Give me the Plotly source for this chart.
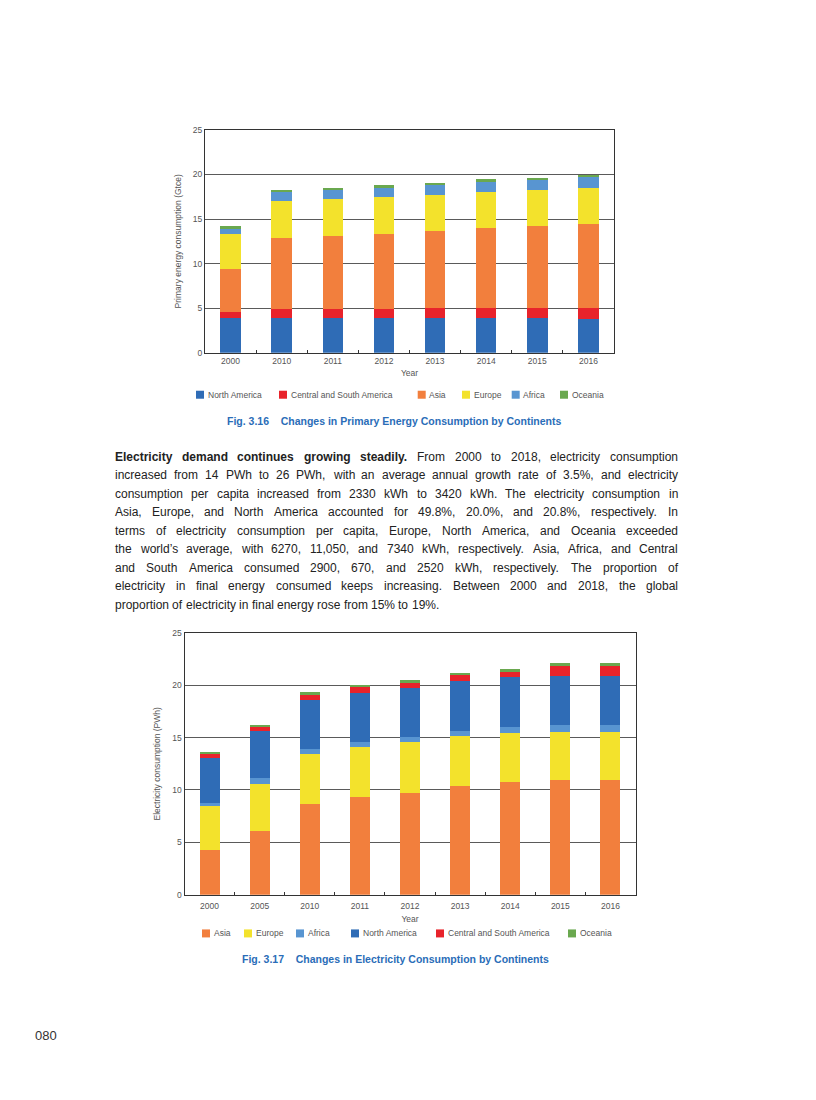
import plotly.graph_objects as go

# ---------------- Data: Fig. 3.16 Primary energy consumption (Gtce) ----------------
years1 = ["2000", "2010", "2011", "2012", "2013", "2014", "2015", "2016"]
pe_north_america = [3.85, 3.85, 3.85, 3.85, 3.90, 3.95, 3.88, 3.84]
pe_central_south_america = [0.70, 1.05, 1.05, 1.05, 1.08, 1.05, 1.12, 1.16]
pe_asia = [4.85, 8.00, 8.23, 8.46, 8.66, 9.00, 9.18, 9.40]
pe_europe = [3.90, 4.10, 4.15, 4.10, 4.10, 4.06, 4.07, 4.07]
pe_africa = [0.70, 1.05, 1.02, 1.12, 1.12, 1.12, 1.12, 1.19]
pe_oceania = [0.20, 0.20, 0.20, 0.22, 0.22, 0.26, 0.26, 0.30]

# ---------------- Data: Fig. 3.17 Electricity consumption (PWh) ----------------
years2 = ["2000", "2005", "2010", "2011", "2012", "2013", "2014", "2015", "2016"]
el_asia = [4.26, 6.07, 8.65, 9.29, 9.73, 10.34, 10.72, 10.91, 10.91]
el_europe = [4.17, 4.55, 4.77, 4.77, 4.81, 4.77, 4.74, 4.67, 4.67]
el_africa = [0.35, 0.48, 0.51, 0.54, 0.54, 0.57, 0.60, 0.64, 0.64]
el_north_america = [4.32, 4.55, 4.64, 4.67, 4.64, 4.74, 4.71, 4.68, 4.71]
el_central_south_america = [0.35, 0.35, 0.51, 0.55, 0.51, 0.54, 0.54, 0.98, 0.95]
el_oceania = [0.20, 0.22, 0.26, 0.22, 0.25, 0.22, 0.22, 0.22, 0.26]

yticks = [0, 5, 10, 15, 20, 25]

bold_lead = "Electricity demand continues growing steadily."
paragraph_lines = [
    "Electricity demand continues growing steadily. From 2000 to 2018, electricity consumption",
    "increased from 14 PWh to 26 PWh, with an average annual growth rate of 3.5%, and electricity",
    "consumption per capita increased from 2330 kWh to 3420 kWh. The electricity consumption in",
    "Asia, Europe, and North America accounted for 49.8%, 20.0%, and 20.8%, respectively. In",
    "terms of electricity consumption per capita, Europe, North America, and Oceania exceeded",
    "the world\u2019s average, with 6270, 11,050, and 7340 kWh, respectively. Asia, Africa, and Central",
    "and South America consumed 2900, 670, and 2520 kWh, respectively. The proportion of",
    "electricity in final energy consumed keeps increasing. Between 2000 and 2018, the global",
    "proportion of electricity in final energy rose from 15% to 19%.",
]

C_NA = "#2f6cb6"
C_CSA = "#e8232b"
C_ASIA = "#f27f3d"
C_EUR = "#f3e22c"
C_AFR = "#5895d1"
C_OCE = "#6aa84f"

# browser body has an 8px margin; keep the page shorter than the window
OFF = 8
W, H = 800, 1070
# small empirical vertical correction between page pixels and the photographed picture
YA, YB = 0.9912, 4.14
FONT = "Liberation Sans, Arial, sans-serif"
TICK_COLOR = "#555555"
GRID = "#5a5a5a"


def px_x(p):
    return (p - OFF) / W


def px_y(p):
    page = (p - YB) / YA
    return 1 - (page - OFF) / H


fig = go.Figure()

series1 = [
    ("North America", pe_north_america, C_NA),
    ("Central and South America", pe_central_south_america, C_CSA),
    ("Asia", pe_asia, C_ASIA),
    ("Europe", pe_europe, C_EUR),
    ("Africa", pe_africa, C_AFR),
    ("Oceania", pe_oceania, C_OCE),
]
for name, vals, col in series1:
    fig.add_trace(go.Bar(x=years1, y=vals, name=name, marker_color=col,
                         marker_line_width=0, xaxis="x", yaxis="y", showlegend=False))

series2 = [
    ("Asia", el_asia, C_ASIA),
    ("Europe", el_europe, C_EUR),
    ("Africa", el_africa, C_AFR),
    ("North America", el_north_america, C_NA),
    ("Central and South America", el_central_south_america, C_CSA),
    ("Oceania", el_oceania, C_OCE),
]
for name, vals, col in series2:
    fig.add_trace(go.Bar(x=years2, y=vals, name=name, marker_color=col,
                         marker_line_width=0, xaxis="x2", yaxis="y2", showlegend=False))

axis_common = dict(
    showline=True, linecolor="#333333", linewidth=1, mirror=True,
    tickfont=dict(family=FONT, size=8.5, color=TICK_COLOR),
    fixedrange=True,
)

fig.update_layout(
    width=W, height=H,
    margin=dict(l=0, r=0, t=0, b=0),
    paper_bgcolor="white", plot_bgcolor="white",
    barmode="stack", bargap=0.6,
    font=dict(family=FONT, color="#333333"),
    showlegend=False,
    xaxis=dict(domain=[px_x(205), px_x(614)], anchor="y",
               type="category", tickson="boundaries", ticks="inside", ticklen=3,
               tickcolor="#333333",
               title=dict(text="Year", standoff=5,
                          font=dict(family=FONT, size=8.5, color=TICK_COLOR)),
               **axis_common),
    yaxis=dict(domain=[px_y(352), px_y(129)], anchor="x", range=[0, 25],
               tickvals=yticks, showgrid=True, gridcolor=GRID, gridwidth=1,
               ticks="", zeroline=False,
               title=dict(text="Primary energy consumption (Gtce)", standoff=9,
                          font=dict(family=FONT, size=8.5, color=TICK_COLOR)),
               **axis_common),
    xaxis2=dict(domain=[px_x(184.5), px_x(635.5)], anchor="y2",
                type="category", tickson="boundaries", ticks="inside", ticklen=3,
                tickcolor="#333333", ticklabelstandoff=3,
                title=dict(text="Year", standoff=6,
                           font=dict(family=FONT, size=8.5, color=TICK_COLOR)),
                **axis_common),
    yaxis2=dict(domain=[px_y(894.3), px_y(632.3)], anchor="x2", range=[0, 25],
                tickvals=yticks, showgrid=True, gridcolor=GRID, gridwidth=1,
                ticks="", zeroline=False,
                title=dict(text="Electricity consumption (PWh)", standoff=10,
                           font=dict(family=FONT, size=8.5, color=TICK_COLOR)),
                **axis_common),
)

annotations = []
shapes = []

# ---------------- manual legends (small squares like the original) ----------------
legend1_x = [196, 279, 417.7, 462, 511.7, 560]
legend2_x = [202, 244, 296, 351, 436, 568]
for (name, _, col), lx in zip(series1, legend1_x):
    shapes.append(dict(type="rect", xref="paper", yref="paper",
                       x0=px_x(lx), x1=px_x(lx + 8), y0=px_y(398), y1=px_y(390),
                       fillcolor=col, line_width=0))
    annotations.append(dict(text=name, x=px_x(lx + 9.5), y=px_y(394), xref="paper",
                            yref="paper", showarrow=False, xanchor="left",
                            yanchor="middle",
                            font=dict(family=FONT, size=8.5, color=TICK_COLOR)))
for (name, _, col), lx in zip(series2, legend2_x):
    shapes.append(dict(type="rect", xref="paper", yref="paper",
                       x0=px_x(lx), x1=px_x(lx + 8), y0=px_y(937), y1=px_y(929),
                       fillcolor=col, line_width=0))
    annotations.append(dict(text=name, x=px_x(lx + 9.5), y=px_y(933), xref="paper",
                            yref="paper", showarrow=False, xanchor="left",
                            yanchor="middle",
                            font=dict(family=FONT, size=8.5, color=TICK_COLOR)))

CAP_BLUE = "#2a6db8"
annotations += [
    dict(text="<b>Fig. 3.16    Changes in Primary Energy Consumption by Continents</b>",
         x=px_x(394), y=px_y(420.5), xref="paper", yref="paper",
         showarrow=False, xanchor="center", yanchor="middle",
         font=dict(family=FONT, size=10.5, color=CAP_BLUE)),
    dict(text="<b>Fig. 3.17    Changes in Electricity Consumption by Continents</b>",
         x=px_x(395), y=px_y(959), xref="paper", yref="paper",
         showarrow=False, xanchor="center", yanchor="middle",
         font=dict(family=FONT, size=10.5, color=CAP_BLUE)),
    dict(text="080", x=px_x(33), y=px_y(1035), xref="paper", yref="paper",
         showarrow=False, xanchor="left", yanchor="middle",
         font=dict(family=FONT, size=13, color="#333333")),
]

# ---------------- justified paragraph (Helvetica/Arial metrics) ----------------
REG = {
    " ": 278, "!": 278, "'": 191, "\u2019": 222, "(": 333, ")": 333, ",": 278, "-": 333,
    ".": 278, "%": 889, ":": 278, ";": 278,
    "A": 667, "B": 667, "C": 722, "D": 722, "E": 667, "F": 611, "G": 778, "H": 722,
    "I": 278, "J": 500, "K": 667, "L": 556, "M": 833, "N": 722, "O": 778, "P": 667,
    "Q": 778, "R": 722, "S": 667, "T": 611, "U": 722, "V": 667, "W": 944, "X": 667,
    "Y": 667, "Z": 611,
    "a": 556, "b": 556, "c": 500, "d": 556, "e": 556, "f": 278, "g": 556, "h": 556,
    "i": 222, "j": 222, "k": 500, "l": 222, "m": 833, "n": 556, "o": 556, "p": 556,
    "q": 556, "r": 333, "s": 500, "t": 278, "u": 556, "v": 500, "w": 722, "x": 500,
    "y": 500, "z": 500,
}
for d in "0123456789":
    REG[d] = 556
BOLD = dict(REG)
BOLD.update({"E": 667, "a": 556, "b": 611, "c": 556, "d": 611, "e": 556, "f": 333,
             "g": 611, "h": 611, "i": 278, "j": 278, "k": 556, "l": 278, "m": 889,
             "n": 611, "o": 611, "p": 611, "q": 611, "r": 389, "s": 556, "t": 333,
             "u": 611, "v": 556, "w": 778, "x": 556, "y": 556, "z": 500, ".": 278})

PFS = 12.0
LEFT, RIGHT = 114.0, 677.0
n_bold = len(bold_lead.split())


def word_width(w, bold):
    table = BOLD if bold else REG
    return sum(table.get(ch, 556) for ch in w) * PFS / 1000.0


for i, line in enumerate(paragraph_lines):
    words = line.split(" ")
    ypos = px_y(456 + i * 18.5)
    flags = [(i == 0 and k < n_bold) for k in range(len(words))]
    widths = [word_width(w, b) for w, b in zip(words, flags)]
    last = i == len(paragraph_lines) - 1
    if last:
        gap = REG[" "] * PFS / 1000.0
    else:
        gap = (RIGHT - LEFT - sum(widths)) / (len(words) - 1)
    x = LEFT
    for w, b, ww in zip(words, flags, widths):
        txt = "<b>" + w + "</b>" if b else w
        annotations.append(dict(text=txt, x=px_x(x - 1), y=ypos, xref="paper",
                                yref="paper", showarrow=False, xanchor="left",
                                yanchor="middle",
                                font=dict(family=FONT, size=PFS, color="#222222")))
        x += ww + gap

fig.update_layout(annotations=annotations, shapes=shapes)

fig.write_html("out.html")
